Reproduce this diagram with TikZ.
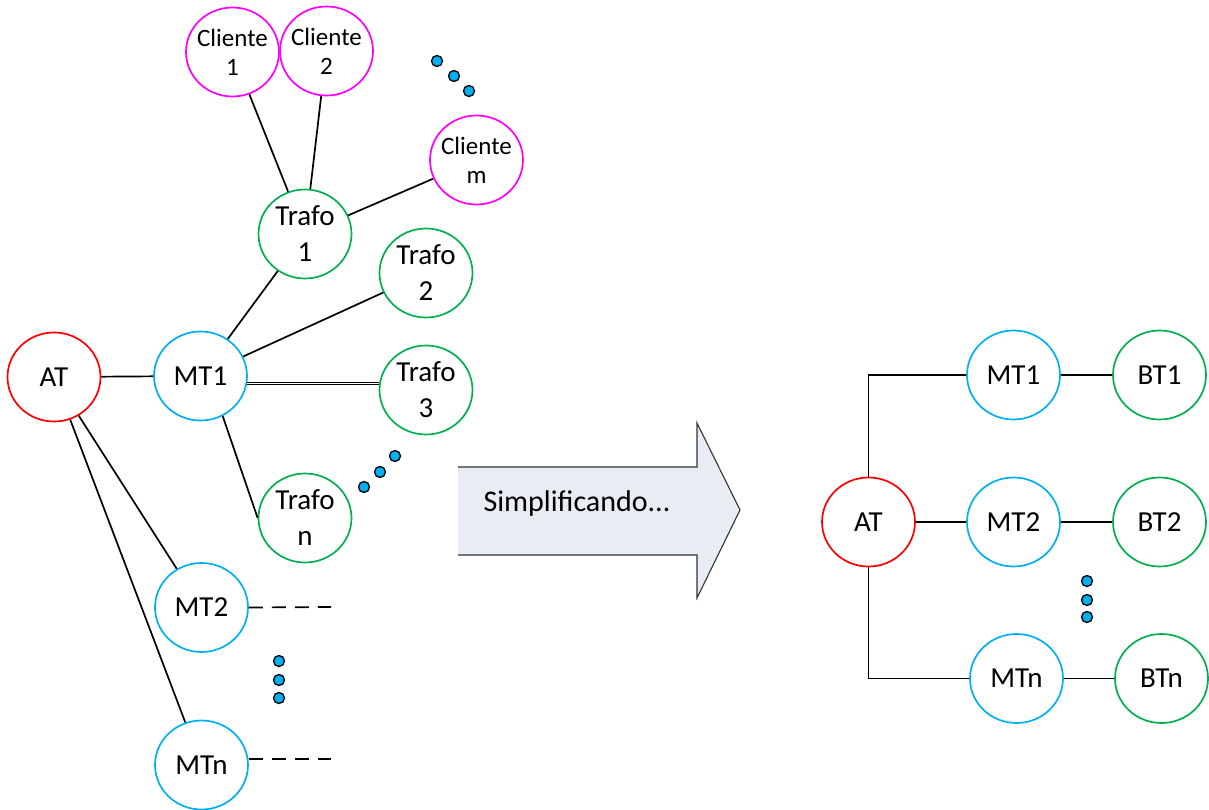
\documentclass[tikz,border=0pt]{standalone}
\usepackage{fontspec}
\setmainfont{Carlito}
\usetikzlibrary{shapes.geometric}
\definecolor{atred}{HTML}{FF0000}
\definecolor{mtblue}{HTML}{00B0F0}
\definecolor{trgreen}{HTML}{00B050}
\definecolor{clmag}{HTML}{FF00FF}
\definecolor{arrowfill}{HTML}{E8ECF3}
\tikzset{
  bubble/.style={ellipse, draw, line width=1.7pt, minimum width=93pt, minimum height=89pt,
    inner sep=0pt, align=center, font=\fontsize{29}{36}\selectfont},
  atnode/.style={bubble, draw=atred},
  mtnode/.style={bubble, draw=mtblue},
  trnode/.style={bubble, draw=trgreen},
  clnode/.style={bubble, draw=clmag, inner sep=-8pt, font=\fontsize{25}{29}\selectfont},
  wire/.style={line width=1.7pt, black},
  dashwire/.style={wire, dash pattern=on 14pt off 9pt},
  dotmark/.style={circle, draw=black, fill=mtblue, line width=1.3pt, minimum size=11pt, inner sep=0pt},
}
\begin{document}
\begin{tikzpicture}[x=1pt, y=-1pt]
\useasboundingbox (0,0) rectangle (1209,810);

% ---- detailed network (left) ----
\node[atnode] (AT) at (54,377) {AT};
\node[mtnode] (MT1) at (200.5,376) {MT1};
\node[mtnode] (MT2) at (201.5,607.5) {MT2};
\node[mtnode] (MTn) at (201.5,765) {MTn};
\node[trnode] (T1) at (305,234) {Trafo\\1};
\node[trnode] (T2) at (426,273) {Trafo\\2};
\node[trnode] (T3) at (426,390) {Trafo\\3};
\node[trnode] (Tn) at (305,518) {Trafo\\n};
\node[clnode] (C1) at (232.5,52) {Cliente\\1};
\node[clnode] (C2) at (326.5,51) {Cliente\\2};
\node[clnode] (Cm) at (476.5,160) {Cliente\\m};

\draw[wire] (AT) -- (MT1);
\draw[wire] (AT) -- (MT2);
\draw[wire] (AT) -- (MTn);
\draw[wire] (MT1) -- (T1);
\draw[wire] (MT1) -- (T2);
\draw[wire, double, double distance=0.9pt, line width=1.1pt] (MT1.-9) -- (MT1.-9 -| T3.west);
\draw[wire] (MT1.-61) -- (Tn.west);
\draw[wire] (T1) -- (C1);
\draw[wire] (T1) -- (C2);
\draw[wire] (T1) -- (Cm);

\coordinate (MT2end) at (331,607);
\coordinate (MTnend) at (331,759);
\draw[dashwire] (MT2.east) -- (MT2end);
\draw[dashwire] (MT2.east |- MTnend) -- (MTnend);

% ellipsis marks
\node[dotmark] (ca) at (437,61) {};
\node[dotmark] (cb) at (454,76) {};
\node[dotmark] (cc) at (469,91) {};
\node[dotmark] (ta) at (395,456) {};
\node[dotmark] (tb) at (380,472) {};
\node[dotmark] (tc) at (364,487) {};
\node[dotmark] (ma) at (279,661) {};
\node[dotmark] (mb) at (279,680) {};
\node[dotmark] (mc) at (279,698) {};

% ---- block arrow ----
\fill[arrowfill] (458,467) -- (697,467) -- (697,423) -- (740,510) -- (697,598) -- (697,555) -- (458,555) -- cycle;
\draw[line width=1.1pt, black!80] (458,467) -- (697,467) -- (697,423) -- (740,510) -- (697,598) -- (697,555) -- (458,555);
\node[font=\fontsize{30}{36}\selectfont, anchor=west] (simp) at (480,503) {Simplificando...};

% ---- simplified network (right) ----
\node[atnode] (RAT) at (868.5,522) {AT};
\node[mtnode] (RMT1) at (1013.5,375) {MT1};
\node[mtnode] (RMT2) at (1013.5,522) {MT2};
\node[mtnode] (RMTn) at (1016.5,678.5) {MTn};
\node[trnode] (BT1) at (1159.5,375) {BT1};
\node[trnode] (BT2) at (1159.5,522) {BT2};
\node[trnode] (BTn) at (1161.5,678.5) {BTn};

\draw[wire] (RAT.north) |- (RMT1.west);
\draw[wire] (RAT) -- (RMT2);
\draw[wire] (RAT.south) |- (RMTn.west);
\draw[wire] (RMT1) -- (BT1);
\draw[wire] (RMT2) -- (BT2);
\draw[wire] (RMTn) -- (BTn);

\node[dotmark] (ra) at (1087,581) {};
\node[dotmark] (rb) at (1087,600) {};
\node[dotmark] (rc) at (1087,617) {};
\end{tikzpicture}
\end{document}
